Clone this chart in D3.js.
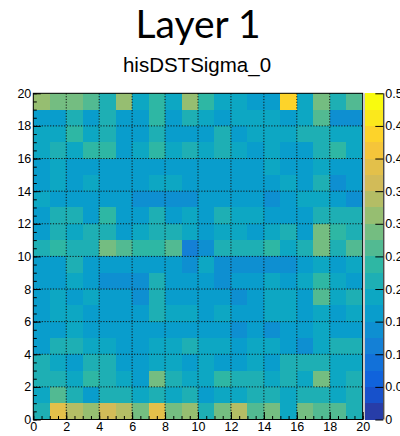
<!DOCTYPE html>
<html>
<head>
<meta charset="utf-8">
<script src="https://cdn.jsdelivr.net/npm/d3@7"></script>
<style>
  body { margin: 0; background: #fff; }
  svg { display: block; }
</style>
</head>
<body>
<svg id="chart"></svg>
<script>
const title = "Layer 1";
const histName = "hisDSTSigma_0";

const xTicks = [0, 2, 4, 6, 8, 10, 12, 14, 16, 18, 20];
const yTicks = [0, 2, 4, 6, 8, 10, 12, 14, 16, 18, 20];
const zTicks = [0, 0.05, 0.1, 0.15, 0.2, 0.25, 0.3, 0.35, 0.4, 0.45, 0.5];
const zMax = 0.5;
const nLevels = 20;

// cell contents, top row (y = 19..20) first, x = 0..20 left to right
const values = [
  [0.31,0.29,0.29,0.26,0.21,0.31,0.19,0.24,0.19,0.31, 0.24,0.19,0.19,0.16,0.16,0.44,0.19,0.29,0.21,0.26],
  [0.16,0.16,0.21,0.16,0.21,0.16,0.16,0.24,0.16,0.21, 0.19,0.16,0.19,0.19,0.19,0.16,0.19,0.26,0.14,0.14],
  [0.19,0.19,0.24,0.19,0.21,0.16,0.16,0.21,0.16,0.16, 0.16,0.21,0.16,0.19,0.19,0.19,0.21,0.21,0.19,0.19],
  [0.19,0.21,0.19,0.24,0.24,0.16,0.19,0.24,0.19,0.21, 0.19,0.21,0.19,0.16,0.19,0.16,0.16,0.21,0.24,0.19],
  [0.16,0.19,0.16,0.16,0.16,0.16,0.16,0.16,0.16,0.16, 0.16,0.16,0.16,0.16,0.19,0.16,0.16,0.19,0.16,0.16],
  [0.16,0.19,0.16,0.19,0.16,0.16,0.16,0.19,0.19,0.16, 0.16,0.16,0.16,0.16,0.16,0.19,0.16,0.21,0.14,0.16],
  [0.19,0.16,0.16,0.16,0.16,0.16,0.14,0.14,0.14,0.14, 0.16,0.16,0.16,0.16,0.14,0.16,0.19,0.19,0.16,0.14],
  [0.16,0.21,0.21,0.16,0.24,0.16,0.16,0.21,0.16,0.19, 0.16,0.21,0.19,0.19,0.16,0.16,0.16,0.21,0.21,0.21],
  [0.16,0.21,0.19,0.21,0.21,0.16,0.19,0.21,0.21,0.19, 0.16,0.19,0.19,0.16,0.19,0.21,0.16,0.29,0.24,0.21],
  [0.21,0.24,0.21,0.21,0.29,0.26,0.24,0.24,0.26,0.11, 0.14,0.21,0.21,0.21,0.24,0.19,0.21,0.29,0.21,0.26],
  [0.16,0.16,0.21,0.16,0.16,0.16,0.16,0.16,0.16,0.14, 0.19,0.14,0.14,0.14,0.14,0.14,0.16,0.19,0.16,0.19],
  [0.16,0.16,0.19,0.16,0.14,0.14,0.14,0.21,0.16,0.16, 0.16,0.14,0.16,0.16,0.19,0.16,0.19,0.24,0.19,0.16],
  [0.16,0.19,0.16,0.19,0.16,0.16,0.14,0.21,0.16,0.16, 0.16,0.16,0.14,0.16,0.19,0.19,0.16,0.26,0.19,0.21],
  [0.16,0.19,0.19,0.16,0.16,0.16,0.16,0.21,0.19,0.19, 0.16,0.19,0.16,0.16,0.19,0.19,0.16,0.19,0.16,0.19],
  [0.16,0.16,0.19,0.16,0.16,0.16,0.16,0.16,0.16,0.16, 0.16,0.16,0.14,0.16,0.14,0.16,0.16,0.19,0.16,0.16],
  [0.16,0.21,0.21,0.19,0.19,0.16,0.16,0.19,0.19,0.21, 0.19,0.19,0.16,0.19,0.19,0.16,0.14,0.19,0.21,0.21],
  [0.21,0.19,0.16,0.21,0.21,0.16,0.16,0.19,0.19,0.16, 0.19,0.16,0.16,0.19,0.16,0.21,0.21,0.21,0.19,0.19],
  [0.21,0.21,0.19,0.24,0.21,0.19,0.16,0.29,0.21,0.19, 0.19,0.24,0.21,0.21,0.19,0.21,0.19,0.29,0.19,0.21],
  [0.19,0.26,0.21,0.16,0.21,0.21,0.19,0.21,0.19,0.21, 0.16,0.19,0.19,0.21,0.21,0.19,0.21,0.21,0.19,0.21],
  [0.21,0.39,0.34,0.31,0.36,0.34,0.29,0.39,0.29,0.31, 0.21,0.29,0.34,0.26,0.29,0.19,0.29,0.26,0.26,0.21]
];

// ROOT kBird palette stops
const birdStops = [0, 0.125, 0.25, 0.375, 0.5, 0.625, 0.75, 0.875, 1];
const birdColors = ["#352a87", "#0f5cdd", "#1481d6", "#06a4ca", "#2eb7a4",
                    "#87bf77", "#d1bb59", "#fec832", "#f9fb0e"];

const width = 400, height = 436;
const frame = { left: 33.3, right: 362.7, top: 93.3, bottom: 419.5 };
const pal = { left: 365, right: 383.3 };

const svg = d3.select("#chart").attr("width", width).attr("height", height);

const bird = d3.scaleLinear().domain(birdStops).range(birdColors).interpolate(d3.interpolateRgb);
// same level -> colour lookup as ROOT's contour palette
function levelColor(b) {
  const idx = Math.floor((b + 0.99) * 255 / nLevels);
  return bird(Math.min(idx, 254) / 254);
}
function valueColor(v) {
  let b = Math.floor(v / zMax * nLevels + 1e-6);
  b = Math.max(0, Math.min(nLevels - 1, b));
  return levelColor(b);
}

const x = d3.scaleLinear().domain([0, 20]).range([frame.left, frame.right]);
const y = d3.scaleLinear().domain([0, 20]).range([frame.bottom, frame.top]);
const z = d3.scaleLinear().domain([0, zMax]).range([frame.bottom, frame.top]);

// titles
svg.append("text")
  .attr("x", 198).attr("y", 38)
  .attr("text-anchor", "middle")
  .style("font-family", "Lato, 'Open Sans', sans-serif")
  .style("font-size", "39px")
  .text(title);

svg.append("text")
  .attr("x", 197).attr("y", 72)
  .attr("text-anchor", "middle")
  .style("font-family", "'Liberation Sans', Arial, sans-serif")
  .style("font-size", "20.5px")
  .text(histName);

// cells
const cells = [];
values.forEach((row, r) => {
  const yi = values.length - 1 - r;
  row.forEach((v, xi) => cells.push({ xi, yi, v }));
});

svg.append("g")
  .selectAll("rect")
  .data(cells)
  .join("rect")
  .attr("x", d => x(d.xi))
  .attr("y", d => y(d.yi + 1))
  .attr("width", d => x(d.xi + 1) - x(d.xi))
  .attr("height", d => y(d.yi) - y(d.yi + 1))
  .attr("fill", d => valueColor(d.v))
  .attr("shape-rendering", "crispEdges");

// dotted grid
const grid = svg.append("g")
  .attr("stroke", "#111")
  .attr("stroke-width", 1)
  .attr("stroke-dasharray", "1.2,1.6");
grid.selectAll(".gx")
  .data(xTicks.slice(1, -1))
  .join("line")
  .attr("x1", d => x(d)).attr("x2", d => x(d))
  .attr("y1", frame.top).attr("y2", frame.bottom);
grid.selectAll(".gy")
  .data(yTicks.slice(1, -1))
  .join("line")
  .attr("y1", d => y(d)).attr("y2", d => y(d))
  .attr("x1", frame.left).attr("x2", frame.right);

// axes, ticks inside the frame
const minorTicks = d3.range(0, 20.01, 0.5);
const fontAxis = "'Liberation Sans', Arial, sans-serif";

svg.append("g")
  .attr("transform", `translate(0,${frame.bottom})`)
  .call(d3.axisBottom(x).tickValues(minorTicks).tickSize(-3.5).tickFormat(""))
  .call(g => g.select(".domain").remove());
svg.append("g")
  .attr("transform", `translate(0,${frame.bottom})`)
  .call(d3.axisBottom(x).tickValues(xTicks).tickSize(-7.5).tickPadding(3).tickFormat(d3.format("d")))
  .call(g => g.select(".domain").remove())
  .call(g => g.selectAll("text").style("font-family", fontAxis).style("font-size", "12.5px").attr("fill", "#000"));

svg.append("g")
  .attr("transform", `translate(${frame.left},0)`)
  .call(d3.axisLeft(y).tickValues(minorTicks).tickSize(-3.5).tickFormat(""))
  .call(g => g.select(".domain").remove());
svg.append("g")
  .attr("transform", `translate(${frame.left},0)`)
  .call(d3.axisLeft(y).tickValues(yTicks).tickSize(-7.5).tickPadding(2).tickFormat(d3.format("d")))
  .call(g => g.select(".domain").remove())
  .call(g => g.selectAll("text").style("font-family", fontAxis).style("font-size", "12.5px").attr("fill", "#000"));

// frame
svg.append("rect")
  .attr("x", frame.left).attr("y", frame.top)
  .attr("width", frame.right - frame.left)
  .attr("height", frame.bottom - frame.top)
  .attr("fill", "none")
  .attr("stroke", "#000")
  .attr("stroke-width", 1);

// palette
const levels = d3.range(nLevels);
svg.append("g")
  .selectAll("rect")
  .data(levels)
  .join("rect")
  .attr("x", pal.left)
  .attr("width", pal.right - pal.left)
  .attr("y", d => z((d + 1) * zMax / nLevels))
  .attr("height", d => z(d * zMax / nLevels) - z((d + 1) * zMax / nLevels))
  .attr("fill", d => levelColor(d))
  .attr("shape-rendering", "crispEdges");

svg.append("line")
  .attr("x1", pal.left - 0.5).attr("x2", pal.left - 0.5)
  .attr("y1", frame.top).attr("y2", frame.bottom)
  .attr("stroke", "#c8c8c8").attr("stroke-width", 1);

svg.append("g")
  .attr("transform", `translate(${pal.right},0)`)
  .call(d3.axisRight(z).tickValues(zTicks).tickSize(-8).tickPadding(2).tickFormat(d => d3.format("")(+d.toFixed(2))))
  .call(g => g.select(".domain").attr("d", `M0.5,${frame.top}V${frame.bottom}`))
  .call(g => g.selectAll("text").style("font-family", fontAxis).style("font-size", "12.5px").attr("fill", "#000"));
</script>
</body>
</html>
